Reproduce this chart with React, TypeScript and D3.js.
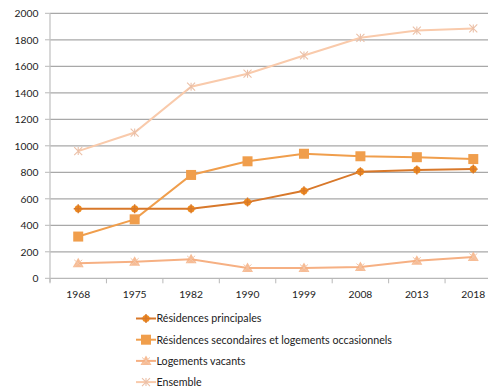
import React from "react";
import * as d3 from "d3";

const years = ["1968", "1975", "1982", "1990", "1999", "2008", "2013", "2018"];
const principales = [525, 525, 525, 575, 660, 805, 818, 824];
const secondaires = [315, 445, 780, 883, 940, 921, 914, 900];
const vacants = [113, 125, 143, 78, 78, 85, 133, 161];
const ensemble = [960, 1100, 1446, 1544, 1682, 1815, 1870, 1886];
const yTicks = [0, 200, 400, 600, 800, 1000, 1200, 1400, 1600, 1800, 2000];

const seriesNames = [
  "Résidences principales",
  "Résidences secondaires et logements occasionnels",
  "Logements vacants",
  "Ensemble",
];

const W = 488;
const H = 388;
const left = 50;
const top = 13.3;
const bottom = 278.3;
const plotRight = 501.5;
const font = "Lato, 'Open Sans', sans-serif";

type Kind = "diamond" | "square" | "triangle" | "cross";
const series: { name: string; values: number[]; color: string; marker: Kind }[] = [
  { name: seriesNames[0], values: principales, color: "#D8782A", marker: "diamond" },
  { name: seriesNames[1], values: secondaires, color: "#F09E4C", marker: "square" },
  { name: seriesNames[2], values: vacants, color: "#F6B083", marker: "triangle" },
  { name: seriesNames[3], values: ensemble, color: "#F9CAAB", marker: "cross" },
];

function Marker({ kind, x, y, color }: { kind: Kind; x: number; y: number; color: string }) {
  if (kind === "square") return <rect x={x - 5} y={y - 5} width={10} height={10} fill={color} />;
  if (kind === "diamond")
    return (
      <g>
        <circle cx={x} cy={y} r={3.6} fill="#EE8A1E" />
        <path d={`M${x - 4.5},${y}H${x + 4.5}M${x},${y - 4.5}V${y + 4.5}`} stroke={color} strokeWidth={1.4} />
      </g>
    );
  if (kind === "triangle")
    return (
      <g>
        <path d={`M${x},${y - 5.5}L${x + 5.5},${y + 4}L${x - 5.5},${y + 4}Z`} fill={color} opacity={0.85} />
        <path d={`M${x - 4},${y - 3.5}L${x + 4},${y + 3.5}M${x + 4},${y - 3.5}L${x - 4},${y + 3.5}`} stroke="#F3C7AA" strokeWidth={1} />
      </g>
    );
  return (
    <path
      d={`M${x - 4},${y - 4}L${x + 4},${y + 4}M${x + 4},${y - 4}L${x - 4},${y + 4}M${x},${y - 4}V${y + 4}`}
      stroke="#EBC0A8"
      strokeWidth={1.1}
      fill="none"
    />
  );
}

export default function App() {
  const x = d3.scaleBand<string>().domain(years).range([left, plotRight]);
  const y = d3.scaleLinear().domain([0, 2000]).range([bottom, top]);
  const cx = (yr: string) => (x(yr) ?? 0) + x.bandwidth() / 2;
  const line = (vals: number[]) =>
    d3
      .line<number>()
      .x((_, i) => cx(years[i]))
      .y((v) => y(v))(vals) ?? "";
  const boundaries = years.map((yr) => x(yr) ?? 0).concat([plotRight]);

  return (
    <svg
      width={W}
      height={H}
      style={{ position: "absolute", left: 0, top: 0, background: "#fff" }}
      fontFamily={font}
    >
      {yTicks.map((t) => (
        <g key={t}>
          <line x1={left} x2={plotRight} y1={y(t)} y2={y(t)} stroke={t === 0 ? "#B8B8B8" : "#A8A8A8"} strokeWidth={1.3} />
          <line x1={left - 5} x2={left} y1={y(t)} y2={y(t)} stroke="#B8B8B8" strokeWidth={1} />
          <text x={38.5} y={y(t) + 3.7} textAnchor="end" fontSize={10.3} fill="#222">
            {t}
          </text>
        </g>
      ))}
      <line x1={left} x2={left} y1={top} y2={bottom + 4} stroke="#C4C4C4" strokeWidth={1.3} />
      {boundaries.map((b, i) => (
        <line key={i} x1={b} x2={b} y1={bottom} y2={bottom + 5} stroke="#B8B8B8" strokeWidth={1} />
      ))}
      {years.map((yr) => (
        <text key={yr} x={cx(yr)} y={297.5} textAnchor="middle" fontSize={10.3} fill="#222">
          {yr}
        </text>
      ))}
      {series
        .slice()
        .reverse()
        .map((s) => (
          <g key={s.name}>
            <path d={line(s.values)} fill="none" stroke={s.color} strokeWidth={2} />
            {s.values.map((v, i) => (
              <Marker key={i} kind={s.marker} x={cx(years[i])} y={y(v)} color={s.color} />
            ))}
          </g>
        ))}
      {series.map((s, i) => {
        const ly = 318.5 + i * 21.2;
        return (
          <g key={s.name}>
            <line x1={136} x2={156} y1={ly} y2={ly} stroke={s.color} strokeWidth={2} />
            <Marker kind={s.marker} x={146} y={ly} color={s.color} />
            <text x={156.5} y={ly + 3.8} fontSize={10.7} fill="#222">
              {s.name}
            </text>
          </g>
        );
      })}
    </svg>
  );
}
